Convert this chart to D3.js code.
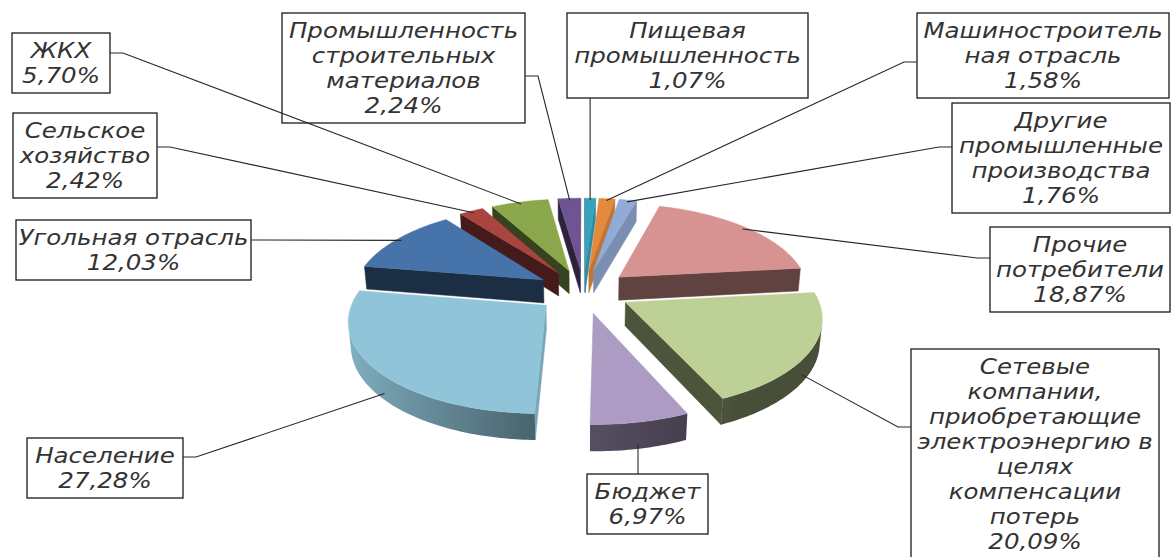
<!DOCTYPE html>
<html>
<head>
<meta charset="utf-8">
<script src="https://cdn.jsdelivr.net/npm/d3@7"></script>
<style>
  body { margin: 0; background: #fff; }
  svg { display: block; }
</style>
</head>
<body>
<svg id="chart" width="1171" height="557"></svg>
<script>
// data, clockwise from 12 o'clock
const categories = [
    "Пищевая промышленность",
    "Машиностроительная отрасль",
    "Другие промышленные производства",
    "Прочие потребители",
    "Сетевые компании, приобретающие электроэнергию в целях компенсации потерь",
    "Бюджет",
    "Население",
    "Угольная отрасль",
    "Сельское хозяйство",
    "ЖКХ",
    "Промышленность строительных материалов"
];
const values = [1.07, 1.58, 1.76, 18.87, 20.09, 6.97, 27.28, 12.03, 2.42, 5.70, 2.24];

// how the data labels wrap in the boxes
const labelLines = [
    ["Пищевая", "промышленность"],
    ["Машиностроитель", "ная отрасль"],
    ["Другие", "промышленные", "производства"],
    ["Прочие", "потребители"],
    ["Сетевые", "компании,", "приобретающие", "электроэнергию в", "целях", "компенсации", "потерь"],
    ["Бюджет"],
    ["Население"],
    ["Угольная отрасль"],
    ["Сельское", "хозяйство"],
    ["ЖКХ"],
    ["Промышленность", "строительных", "материалов"]
];

const colors = ["#36a2bc", "#e38b3d", "#92abd6", "#d69391", "#bdd197", "#ac9cc3",
                "#90c4d8", "#4674aa", "#aa4440", "#8aa74b", "#6e5493"];

// label box placement: top-left corner, width, which side the leader leaves from, leader y
const labelBoxes = [
    { x: 567, y: 13, w: 241, side: "bottom" },
    { x: 917, y: 13, w: 252, side: "left", ly: 62 },
    { x: 952, y: 103, w: 218, side: "left", ly: 147 },
    { x: 990, y: 227, w: 180, side: "left", ly: 258 },
    { x: 911, y: 349, w: 248, side: "left", ly: 427 },
    { x: 587, y: 474, w: 121, side: "top" },
    { x: 27, y: 438, w: 156, side: "right", ly: 457 },
    { x: 16, y: 220, w: 235, side: "right", ly: 240 },
    { x: 13, y: 113, w: 144, side: "right", ly: 147 },
    { x: 12, y: 33, w: 98, side: "right", ly: 53 },
    { x: 282, y: 13, w: 243, side: "right", ly: 76 }
];

const svg = d3.select("#chart");
const defs = svg.append("defs");

// simple perspective camera for the tilted pie
const CX = 583.5, CY = 291, FOCAL = 1160, DIST = 6.1;
const TILT = 27.5 * Math.PI / 180;
const DEPTH = 0.14, EXPLODE = 0.25;
const cam = [0, DIST * Math.sin(TILT), DIST * Math.cos(TILT)];

function project(p) {
    const [X, Y, Z] = p;
    const sy = Z * Math.sin(TILT) - Y * Math.cos(TILT);
    const d = DIST - (Z * Math.cos(TILT) + Y * Math.sin(TILT));
    return [CX + FOCAL * X / d, CY + FOCAL * sy / d];
}

function facing(n, p) {
    return n[0] * (cam[0] - p[0]) + n[1] * (cam[1] - p[1]) + n[2] * (cam[2] - p[2]) > 0;
}

function shade(c, f) {
    const r = d3.rgb(c);
    return d3.rgb(r.r * f, r.g * f, r.b * f).formatHex();
}

const pie = d3.pie().sort(null).value(d => d);
const arcs = pie(values).map((a, i) => {
    const mid = (a.startAngle + a.endAngle) / 2;
    return { ...a, i, mid, ox: EXPLODE * Math.sin(mid), oz: -EXPLODE * Math.cos(mid) };
});

const line = d3.line();
const poly = pts => line(pts.map(project)) + "Z";

const pieG = svg.append("g").attr("id", "pie");

// back slices first
const order = arcs.slice().sort((a, b) => a.oz - b.oz);

order.forEach(a => {
    const g = pieG.append("g");
    const col = colors[a.i];
    const rim = (t, Y, r = 1) => [a.ox + r * Math.sin(t), Y, a.oz - r * Math.cos(t)];
    const c0 = [a.ox, 0, a.oz], c1 = [a.ox, -DEPTH, a.oz];

    // cut faces
    const faces = [
        { t: a.startAngle, n: [-Math.cos(a.startAngle), 0, -Math.sin(a.startAngle)] },
        { t: a.endAngle, n: [Math.cos(a.endAngle), 0, Math.sin(a.endAngle)] }
    ];
    faces.forEach(f => {
        if (!facing(f.n, rim(f.t, -DEPTH / 2, 0.5))) return;
        const k = 0.4 + 0.45 * Math.max(0, f.n[0]);
        g.append("path")
            .attr("d", poly([c0, rim(f.t, 0), rim(f.t, -DEPTH), c1]))
            .attr("fill", shade(col, k))
            .attr("stroke", shade(col, k))
            .attr("stroke-width", 0.5);
    });

    // outer wall: visible part only, lit with a gradient across x
    const steps = Math.max(2, Math.ceil((a.endAngle - a.startAngle) / (Math.PI / 180)));
    const ts = d3.range(steps + 1).map(j => a.startAngle + (a.endAngle - a.startAngle) * j / steps);
    const vis = [];
    for (let j = 0; j < steps; j++) {
        const t = (ts[j] + ts[j + 1]) / 2;
        const n = [Math.sin(t), 0, -Math.cos(t)];
        if (facing(n, rim(t, -DEPTH / 2))) vis.push(j);
    }
    if (vis.length) {
        const wallTs = ts.slice(vis[0], vis[vis.length - 1] + 2);
        const pts = [...wallTs.map(t => rim(t, 0)), ...wallTs.slice().reverse().map(t => rim(t, -DEPTH))];
        const xa = project(rim(wallTs[0], 0))[0];
        const xb = project(rim(wallTs[wallTs.length - 1], 0))[0];
        const grad = defs.append("linearGradient")
            .attr("id", "wall" + a.i)
            .attr("gradientUnits", "userSpaceOnUse")
            .attr("x1", xa).attr("x2", xb).attr("y1", 0).attr("y2", 0);
        wallTs.forEach(t => {
            const nx = Math.sin(t);
            const k = nx < 0 ? 0.5 - 0.42 * nx : Math.max(0.38, 0.5 - 0.25 * nx);
            const x = project(rim(t, 0))[0];
            const off = Math.abs(xb - xa) < 1e-6 ? 0 : (x - xa) / (xb - xa);
            grad.append("stop")
                .attr("offset", Math.max(0, Math.min(1, off)))
                .attr("stop-color", shade(col, k));
        });
        g.append("path")
            .attr("d", poly(pts))
            .attr("fill", `url(#wall${a.i})`);
    }

    // top
    g.append("path")
        .attr("d", poly([c0, ...ts.map(t => rim(t, 0))]))
        .attr("fill", col)
        .attr("stroke", col)
        .attr("stroke-width", 0.4);
});

// data labels
const fmt = v => v.toFixed(2).replace(".", ",") + "%";
const LINE_H = 25, FIRST = 25, FONT = 21.5, STRETCH = 1.14;

const labels = svg.append("g").attr("id", "labels");

arcs.forEach(a => {
    const b = labelBoxes[a.i];
    const lines = [...labelLines[a.i], fmt(values[a.i])];
    const h = FIRST + 10 + LINE_H * (lines.length - 1);

    labels.append("rect")
        .attr("x", b.x).attr("y", b.y)
        .attr("width", b.w).attr("height", h)
        .attr("fill", "#fff")
        .attr("stroke", "#1a1a1a")
        .attr("stroke-width", 1.3);

    const tg = labels.append("g").attr("transform", `translate(${b.x + b.w / 2},0)`);
    lines.forEach((s, k) => {
        tg.append("text")
            .attr("x", 0)
            .attr("y", b.y + FIRST + k * LINE_H)
            .attr("transform", `scale(${STRETCH},1)`)
            .attr("text-anchor", "middle")
            .attr("font-family", "DejaVu Sans, Verdana, sans-serif")
            .attr("font-style", "italic")
            .attr("font-size", FONT)
            .attr("fill", "#333")
            .text(s);
    });
    b.h = h;
});

// leader lines, drawn over the boxes like in the original
const leaders = svg.append("g").attr("id", "leaders");
arcs.forEach(a => {
    const b = labelBoxes[a.i];
    const front = -Math.cos(a.mid) > 0.25;
    const p = project([a.ox + 0.97 * Math.sin(a.mid), front ? -DEPTH : 0, a.oz - 0.97 * Math.cos(a.mid)]);
    let pts;
    if (b.side === "bottom") pts = [[p[0], b.y + b.h], p];
    else if (b.side === "top") pts = [[p[0], b.y], p];
    else if (b.side === "right") pts = [[b.x + b.w, b.ly], [b.x + b.w + 13, b.ly], p];
    else pts = [[b.x, b.ly], [b.x - 13, b.ly], p];
    leaders.append("path")
        .attr("d", d3.line()(pts))
        .attr("fill", "none")
        .attr("stroke", "#262626")
        .attr("stroke-width", 1.1);
});
</script>
</body>
</html>
